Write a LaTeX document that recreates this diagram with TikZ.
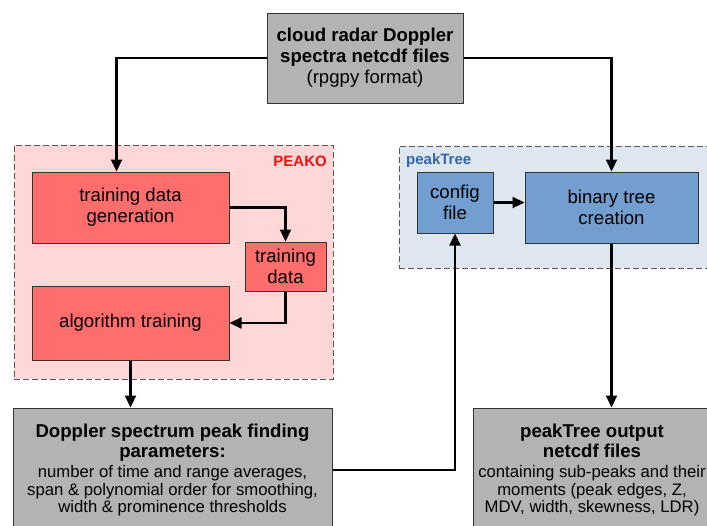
\documentclass[tikz,border=0pt]{standalone}
\usepackage{fontspec}
\setmainfont{Liberation Sans}
\usetikzlibrary{arrows.meta}
\definecolor{boxgray}{HTML}{B3B3B3}
\definecolor{boxred}{HTML}{FF6D6D}
\definecolor{grpred}{HTML}{FFD7D7}
\definecolor{boxblue}{HTML}{729FCF}
\definecolor{grpblue}{HTML}{DEE6EF}
\definecolor{lblblue}{HTML}{3465A4}
\definecolor{lblred}{HTML}{EE1111}
\definecolor{edge}{HTML}{333333}
\begin{document}
\begin{tikzpicture}[x=1pt,y=-1pt,
  box/.style={draw=edge,line width=1pt,inner sep=0pt,align=center,
    font=\fontsize{18.6}{21}\selectfont},
  gbox/.style={box,fill=boxgray},
  rbox/.style={box,fill=boxred},
  bbox/.style={box,fill=boxblue},
  grp/.style={draw=black!65,dash pattern=on 6pt off 3pt,line width=1pt,inner sep=0pt},
  arr/.style={line width=2.2pt,-{Triangle[length=12pt,width=11pt]}}]
\useasboundingbox (0,0) rectangle (707,525);
\clip (0,0) rectangle (707,525);
% groups
\node[grp,fill=grpred,minimum width=319pt,minimum height=234pt] (peako) at (173.5,262) {};
\node[grp,fill=grpblue,minimum width=316pt,minimum height=122pt] (ptgrp) at (557,207) {};
\node[anchor=east,text=lblred,font=\fontsize{15}{17}\selectfont\bfseries,inner sep=0pt] (peakolbl) at (327,161) {PEAKO};
\node[anchor=west,text=lblblue,font=\fontsize{15}{17}\selectfont\bfseries,inner sep=0pt] (ptlbl) at (406,161) {peakTree};
% boxes
\node[gbox,minimum width=196pt,minimum height=90pt] (top) at (365,58)
  {\textbf{cloud radar Doppler}\\\textbf{spectra netcdf files}\\(rpgpy format)};
\node[rbox,minimum width=197pt,minimum height=71pt] (tdg) at (130.5,207.5) {training data\\generation};
\node[rbox,minimum width=81pt,minimum height=49pt] (td) at (285.5,266.5) {training\\data};
\node[rbox,minimum width=197pt,minimum height=74pt] (alg) at (130.5,323) {algorithm training};
\node[bbox,minimum width=76pt,minimum height=61pt] (cfg) at (455,202.5) {config\\file};
\node[bbox,minimum width=173pt,minimum height=71pt] (bin) at (611.5,207.5) {binary tree\\creation};
\node[gbox,minimum width=319pt,minimum height=124pt,font=\fontsize{16.7}{17.5}\selectfont] (dop) at (172.5,470)
  {{\fontsize{18.6}{20}\selectfont\bfseries Doppler spectrum peak finding}\\[2.5pt]
   {\fontsize{18.6}{20}\selectfont\bfseries parameters:}\\[3pt]
   number of time and range averages,\\
   span \& polynomial order for smoothing,\\
   width \& prominence thresholds};
\node[gbox,minimum width=238pt,minimum height=124pt,font=\fontsize{16.7}{17.5}\selectfont] (out) at (592,470)
  {{\fontsize{18.6}{20}\selectfont\bfseries peakTree output}\\[2.5pt]
   {\fontsize{18.6}{20}\selectfont\bfseries netcdf files}\\[3pt]
   containing sub-peaks and their\\
   moments (peak edges, Z,\\
   MDV, width, skewness, LDR)};
% connectors
\draw[arr] (top.west) -| ([xshift=-14pt]tdg.north);
\draw[arr] (top.east) -| (bin.north);
\draw[arr] (tdg.east) -| (td.north);
\draw[arr] (td.south) |- (alg.east);
\draw[arr] (alg.south) -- (alg.south |- dop.north);
\draw[arr] (cfg.east) -- (cfg.east -| bin.west);
\draw[arr] (bin.south) -- (bin.south |- out.north);
\draw[arr] (dop.east) -| (cfg.south);
\end{tikzpicture}
\end{document}
